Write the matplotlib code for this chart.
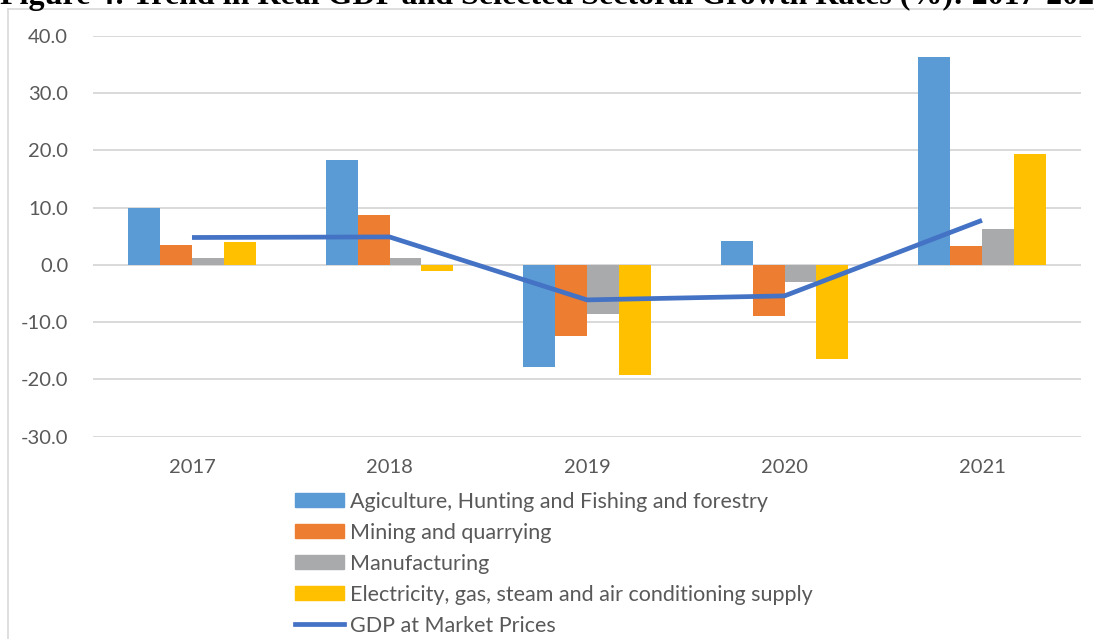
import numpy as np
import matplotlib.pyplot as plt
from matplotlib.lines import Line2D

plt.rcParams['font.family'] = ['Lato', 'DejaVu Sans']

years = ['2017', '2018', '2019', '2020', '2021']
agri = [10.0, 18.4, -17.8, 4.2, 36.3]
mining = [3.5, 8.7, -12.4, -8.9, 3.4]
manuf = [1.3, 1.3, -8.6, -3.0, 6.2]
elec = [4.0, -1.1, -19.2, -16.5, 19.3]
gdp = [4.8, 4.9, -6.1, -5.4, 7.8]

labels = ['Agiculture, Hunting and Fishing and forestry',
          'Mining and quarrying',
          'Manufacturing',
          'Electricity, gas, steam and air conditioning supply',
          'GDP at Market Prices']
colors = ['#5B9BD5', '#ED7D31', '#A9AAAC', '#FFC000']
line_color = '#4472C4'
txt = '#595959'

W, H = 1094, 639
fig = plt.figure(figsize=(W / 100, H / 100), dpi=100)
ax = fig.add_axes([93.25 / W, 1 - 436.7 / H, (1080.75 - 93.25) / W, (436.7 - 36) / H])

x = np.arange(len(years))
w = 0.162
for i, (vals, c) in enumerate(zip([agri, mining, manuf, elec], colors)):
    ax.bar(x + (i - 1.5) * w, vals, w, color=c, zorder=2)
ax.plot(x, gdp, color=line_color, lw=3.4, zorder=3, solid_capstyle='butt')

ax.set_xlim(-0.5, 4.5)
ax.set_ylim(-30, 40)
ax.set_yticks(np.arange(-30, 41, 10))
ax.set_yticklabels([f'{v:.1f}' for v in np.arange(-30, 41, 10)])
ax.set_xticks(x)
ax.set_xticklabels(years)
ax.tick_params(length=0, labelsize=14.5, colors=txt)
ax.tick_params(axis='y', pad=18)
ax.tick_params(axis='x', pad=16)
ax.grid(axis='y', color='#D9D9D9', lw=1.4, zorder=0)
ax.set_axisbelow(True)
for s in ax.spines.values():
    s.set_visible(False)

# legend, stacked below the plot
handles = [plt.Rectangle((0, 0), 1, 1, color=c) for c in colors]
handles.append(Line2D([0], [0], color=line_color, lw=3.4))
fig.legend(handles, labels, loc='upper left', bbox_to_anchor=(284 / W, 1 - 481 / H),
           frameon=False, fontsize=15.5, labelcolor=txt, handlelength=2.3,
           handleheight=0.6, handletextpad=0.25, labelspacing=0.51, borderpad=0)

# outer chart border
fig.add_artist(Line2D([8 / W, 1], [1 - 9 / H, 1 - 9 / H], color='#D9D9D9', lw=1.2))
fig.add_artist(Line2D([8 / W, 8 / W], [0, 1 - 9 / H], color='#D9D9D9', lw=1.2))

# caption sitting above the chart
fig.text(0.0, 1 - 4 / H, 'Figure 4: Trend in Real GDP and Selected Sectoral Growth Rates (%): 2017-2021',
         family='Liberation Serif', fontweight='bold', fontsize=23, va='baseline', ha='left')

fig.savefig('out.png', dpi=100)
